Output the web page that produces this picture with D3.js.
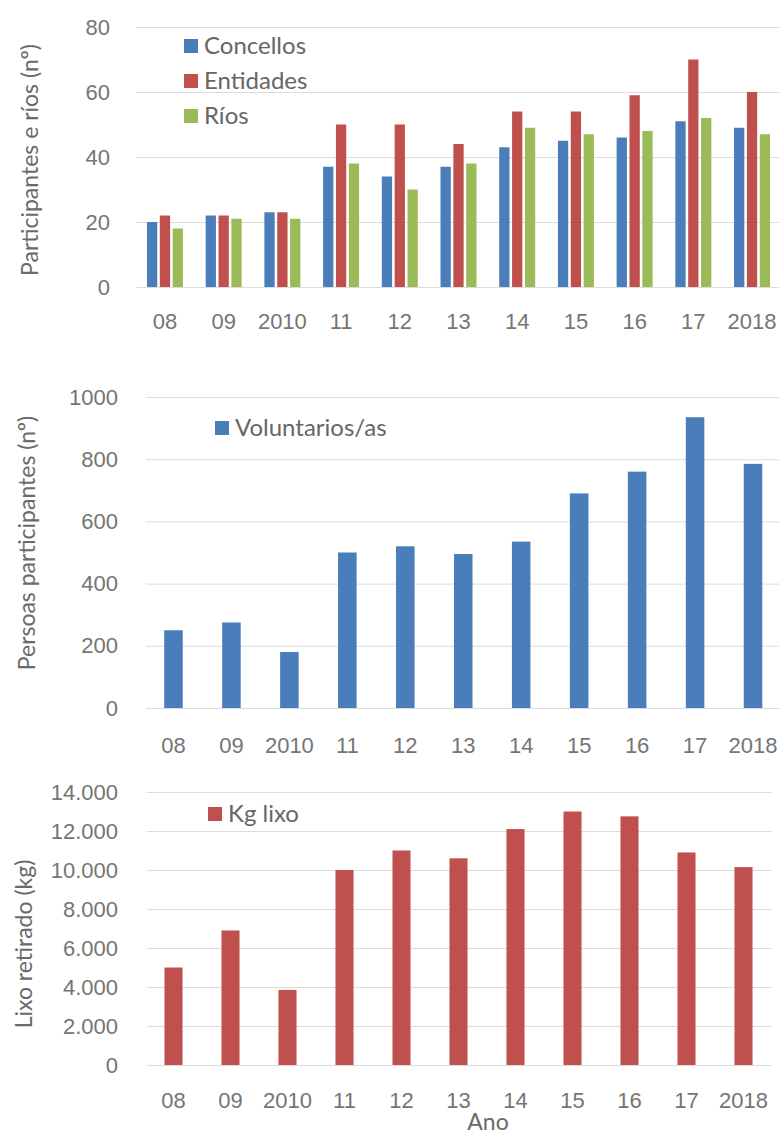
<!DOCTYPE html>
<html>
<head>
<meta charset="utf-8">
<script src="https://cdn.jsdelivr.net/npm/d3@7"></script>
<style>
  body { margin: 0; background: #fff; }
  svg { display: block; font-family: Lato, "Open Sans", sans-serif; }
  .tick text { fill: #757575; font-size: 22px; }
  .grid line { stroke: #dcdcdc; }
  .grid .domain { display: none; }
  .title { fill: #6a6a6a; font-size: 23px; }
  .legend { fill: #666; font-size: 24px; }
</style>
</head>
<body>
<div id="chart"></div>
<script>
// Data
const years = ['08', '09', '2010', '11', '12', '13', '14', '15', '16', '17', '2018'];
const series = ['Concellos', 'Entidades', 'Ríos'];
const concellos = [20, 22, 23, 37, 34, 37, 43, 45, 46, 51, 49];
const entidades = [22, 22, 23, 50, 50, 44, 54, 54, 59, 70, 60];
const rios = [18, 21, 21, 38, 30, 38, 49, 47, 48, 52, 47];
const voluntarios = [250, 275, 180, 500, 520, 495, 535, 690, 760, 935, 785];
const kgLixo = [5000, 6900, 3850, 10000, 11000, 10600, 12100, 13000, 12750, 10900, 10150];
const ticksTop = [0, 20, 40, 60, 80];
const ticksMid = [0, 200, 400, 600, 800, 1000];
const ticksBot = [0, 2000, 4000, 6000, 8000, 10000, 12000, 14000];

const colors = { 'Concellos': '#4a7ebb', 'Entidades': '#c0504d', 'Ríos': '#9bbb59' };

const W = 781, H = 1137;
const svg = d3.select('#chart').append('svg')
    .attr('width', W)
    .attr('height', H);

const gl = d3.formatLocale({ decimal: ',', thousands: '.', grouping: [3], currency: ['', '€'] });
const fmtDots = gl.format(',.0f');

// shared helper for grid + axes of one panel
function panel(opt) {
    const g = svg.append('g');
    // gridlines
    g.append('g')
        .attr('class', 'grid')
        .attr('transform', `translate(${opt.gridX0},0)`)
        .call(d3.axisLeft(opt.y).tickValues(opt.ticks).tickSize(-(opt.gridX1 - opt.gridX0)).tickFormat(''));
    // y tick labels
    g.append('g')
        .attr('transform', `translate(${opt.labelX},0)`)
        .call(d3.axisLeft(opt.y).tickValues(opt.ticks).tickSize(0).tickPadding(0).tickFormat(opt.fmt || d3.format('d')))
        .call(a => a.select('.domain').remove())
        .call(a => a.selectAll('text').attr('font-family', null));
    // x tick labels
    g.append('g')
        .attr('transform', `translate(0,${opt.y(0)})`)
        .call(d3.axisBottom(opt.x).tickSize(0).tickPadding(opt.xPad))
        .call(a => a.select('.domain').remove())
        .call(a => a.selectAll('text').attr('font-family', null));
    // y title
    g.append('text')
        .attr('class', 'title')
        .attr('transform', `translate(${opt.titleX},${opt.titleY}) rotate(-90)`)
        .attr('text-anchor', 'middle')
        .attr('dy', '0.35em')
        .text(opt.title);
    return g;
}

function legendItem(x, y, color, label) {
    svg.append('rect')
        .attr('x', x).attr('y', y - 7)
        .attr('width', 14).attr('height', 14)
        .attr('fill', color);
    svg.append('text')
        .attr('class', 'legend')
        .attr('x', x + 20).attr('y', y)
        .attr('dy', '0.35em')
        .text(label);
}

// ---- Panel 1: Concellos / Entidades / Ríos
const x1 = d3.scaleBand().domain(years).range([135.6, 781.4]).paddingInner(0.387).paddingOuter(0.1935);
const xs1 = d3.scaleBand().domain(series).range([0, x1.bandwidth()]).paddingInner(0.2);
const y1 = d3.scaleLinear().domain([0, 80]).range([287, 27]);

panel({ x: x1, y: y1, ticks: ticksTop, gridX0: 136, gridX1: 779, labelX: 110,
    xPad: 26, titleX: 30, titleY: 160, title: 'Participantes e ríos (nº)' });

const groupData = years.map((yr, i) => ({
    year: yr,
    values: [
        { key: 'Concellos', v: concellos[i] },
        { key: 'Entidades', v: entidades[i] },
        { key: 'Ríos', v: rios[i] }
    ]
}));

svg.append('g').selectAll('g')
    .data(groupData)
    .join('g')
    .attr('transform', d => `translate(${x1(d.year)},0)`)
    .selectAll('rect')
    .data(d => d.values)
    .join('rect')
    .attr('x', d => xs1(d.key))
    .attr('width', xs1.bandwidth())
    .attr('y', d => y1(d.v))
    .attr('height', d => y1(0) - y1(d.v))
    .attr('fill', d => colors[d.key]);

series.forEach((s, i) => legendItem(184, 46 + i * 35, colors[s], s));

// ---- Panel 2: Voluntarios/as
const x2 = d3.scaleBand().domain(years).range([144.5, 782]).paddingInner(0.68).paddingOuter(0.34);
const y2 = d3.scaleLinear().domain([0, 1000]).range([708, 397]);

panel({ x: x2, y: y2, ticks: ticksMid, gridX0: 146, gridX1: 779, labelX: 118,
    xPad: 29, titleX: 27, titleY: 543, title: 'Persoas participantes (nº)' });

svg.append('g').selectAll('rect')
    .data(voluntarios)
    .join('rect')
    .attr('x', (d, i) => x2(years[i]))
    .attr('width', x2.bandwidth())
    .attr('y', d => y2(d))
    .attr('height', d => y2(0) - y2(d))
    .attr('fill', colors['Concellos']);

legendItem(215, 428, colors['Concellos'], 'Voluntarios/as');

// ---- Panel 3: Kg lixo
const x3 = d3.scaleBand().domain(years).range([145, 772]).paddingInner(0.684).paddingOuter(0.342);
const y3 = d3.scaleLinear().domain([0, 14000]).range([1065, 792]);

panel({ x: x3, y: y3, ticks: ticksBot, gridX0: 147, gridX1: 772, labelX: 118,
    xPad: 27, titleX: 24, titleY: 944, title: 'Lixo retirado (kg)', fmt: fmtDots });

svg.append('g').selectAll('rect')
    .data(kgLixo)
    .join('rect')
    .attr('x', (d, i) => x3(years[i]))
    .attr('width', x3.bandwidth())
    .attr('y', d => y3(d))
    .attr('height', d => y3(0) - y3(d))
    .attr('fill', colors['Entidades']);

legendItem(208, 814, colors['Entidades'], 'Kg lixo');

svg.append('text')
    .attr('class', 'title')
    .attr('x', 488).attr('y', 1122)
    .attr('text-anchor', 'middle')
    .attr('dy', '0.35em')
    .text('Ano');
</script>
</body>
</html>
